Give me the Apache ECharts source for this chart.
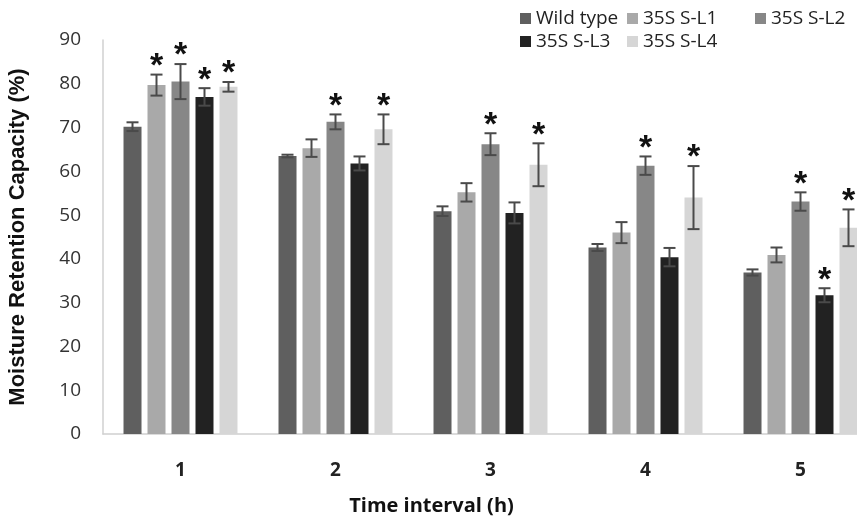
<!DOCTYPE html>
<html>
<head>
<meta charset="utf-8">
<script src="https://cdn.jsdelivr.net/npm/echarts@6/dist/echarts.min.js"></script>
<style>html,body{margin:0;padding:0;background:#fff;}#c{width:857px;height:521px;}</style>
</head>
<body>
<div id="c"></div>
<script>
var categories = ['1', '2', '3', '4', '5'];
var seriesNames = ['Wild type', '35S S-L1', '35S S-L2', '35S S-L3', '35S S-L4'];
var wildType = [70.2, 63.5, 50.9, 42.6, 36.9];
var wildTypeErr = [1.0, 0.3, 1.1, 0.8, 0.7];
var l1 = [79.7, 65.3, 55.2, 46.0, 40.9];
var l1Err = [2.4, 2.0, 2.1, 2.4, 1.7];
var l2 = [80.5, 71.3, 66.2, 61.3, 53.1];
var l2Err = [4.0, 1.7, 2.5, 2.1, 2.1];
var l3 = [77.0, 61.8, 50.5, 40.4, 31.7];
var l3Err = [2.0, 1.6, 2.4, 2.1, 1.6];
var l4 = [79.3, 69.6, 61.5, 54.0, 47.1];
var l4Err = [1.1, 3.4, 4.9, 7.2, 4.2];
var wildTypeSig = [0, 0, 0, 0, 0];
var l1Sig = [1, 0, 0, 0, 0];
var l2Sig = [1, 1, 1, 1, 1];
var l3Sig = [1, 0, 0, 0, 1];
var l4Sig = [1, 1, 1, 1, 1];
var yTicks = [0, 10, 20, 30, 40, 50, 60, 70, 80, 90];

var values = [wildType, l1, l2, l3, l4];
var errs = [wildTypeErr, l1Err, l2Err, l3Err, l4Err];
var sigs = [wildTypeSig, l1Sig, l2Sig, l3Sig, l4Sig];
var colors = ['#5f5f5f', '#a9a9a9', '#878787', '#222222', '#d6d6d6'];
var BAR_W = 18, STEP = 24;
var FONT = '"Open Sans"';

var series = [];
values.forEach(function (vals, si) {
  series.push({
    name: seriesNames[si], type: 'bar', data: vals, barWidth: BAR_W, barGap: '33.3%',
    itemStyle: { color: colors[si] }, z: 2
  });
});
values.forEach(function (vals, si) {
  series.push({
    type: 'custom', name: seriesNames[si] + ' err', z: 5,
    data: vals.map(function (v, i) { return [i, v, errs[si][i], sigs[si][i]]; }),
    renderItem: function (params, api) {
      var ci = api.value(0), v = api.value(1), e = api.value(2), s = api.value(3);
      var top = api.coord([ci, v + e]);
      var bot = api.coord([ci, v - e]);
      var x = top[0] + (si - 2) * STEP;
      var cw = 6;
      var st = { stroke: '#4a4a4a', lineWidth: 2 };
      var children = [
        { type: 'line', shape: { x1: x, y1: top[1], x2: x, y2: bot[1] }, style: st },
        { type: 'line', shape: { x1: x - cw, y1: top[1], x2: x + cw, y2: top[1] }, style: st },
        { type: 'line', shape: { x1: x - cw, y1: bot[1], x2: x + cw, y2: bot[1] }, style: st }
      ];
      if (s) {
        children.push({
          type: 'text',
          style: { x: x, y: top[1] + 9, text: '*', fill: '#111', font: 'bold 34px "Liberation Sans"', textAlign: 'center', textVerticalAlign: 'bottom' }
        });
      }
      return { type: 'group', children: children };
    }
  });
});

var legendPos = [[520, 9], [627, 9], [755, 9], [520, 32], [627, 32]];
var legends = seriesNames.map(function (n, i) {
  return {
    data: [n], left: legendPos[i][0], top: legendPos[i][1], icon: 'rect',
    itemWidth: 11, itemHeight: 11, itemGap: 6, padding: 0,
    textStyle: { fontFamily: FONT, fontSize: 19, color: '#222' }
  };
});

var chart = echarts.init(document.getElementById('c'), null, { renderer: 'canvas' });
chart.setOption({
  animation: false,
  backgroundColor: '#fff',
  legend: legends,
  grid: { left: 103, top: 40, bottom: 87, width: 775, containLabel: false, outerBoundsMode: 'none' },
  xAxis: {
    type: 'category', data: categories,
    name: 'Time interval (h)', nameLocation: 'middle', nameGap: 62,
    nameTextStyle: { fontFamily: FONT, fontWeight: 'bold', fontSize: 20, color: '#111', padding: [0, 118, 0, 0] },
    axisLine: { lineStyle: { color: '#d0d0d0', width: 1.5 } },
    axisTick: { show: false },
    axisLabel: { fontFamily: FONT, fontWeight: 'bold', fontSize: 19, color: '#222', margin: 27 }
  },
  yAxis: {
    type: 'value', min: 0, max: 90, interval: 10,
    name: 'Moisture Retention Capacity (%)', nameLocation: 'middle', nameGap: 74,
    nameTextStyle: { fontFamily: '"Liberation Sans"', fontWeight: 'bold', fontSize: 22, color: '#111' },
    axisLine: { show: true, lineStyle: { color: '#d0d0d0', width: 1.5 } },
    axisTick: { show: false },
    splitLine: { show: false },
    axisLabel: { fontFamily: FONT, fontSize: 19, color: '#333', margin: 22,
      formatter: function (v) { return yTicks.indexOf(v) >= 0 ? String(v) : ''; } }
  },
  series: series
});
</script>
</body>
</html>
